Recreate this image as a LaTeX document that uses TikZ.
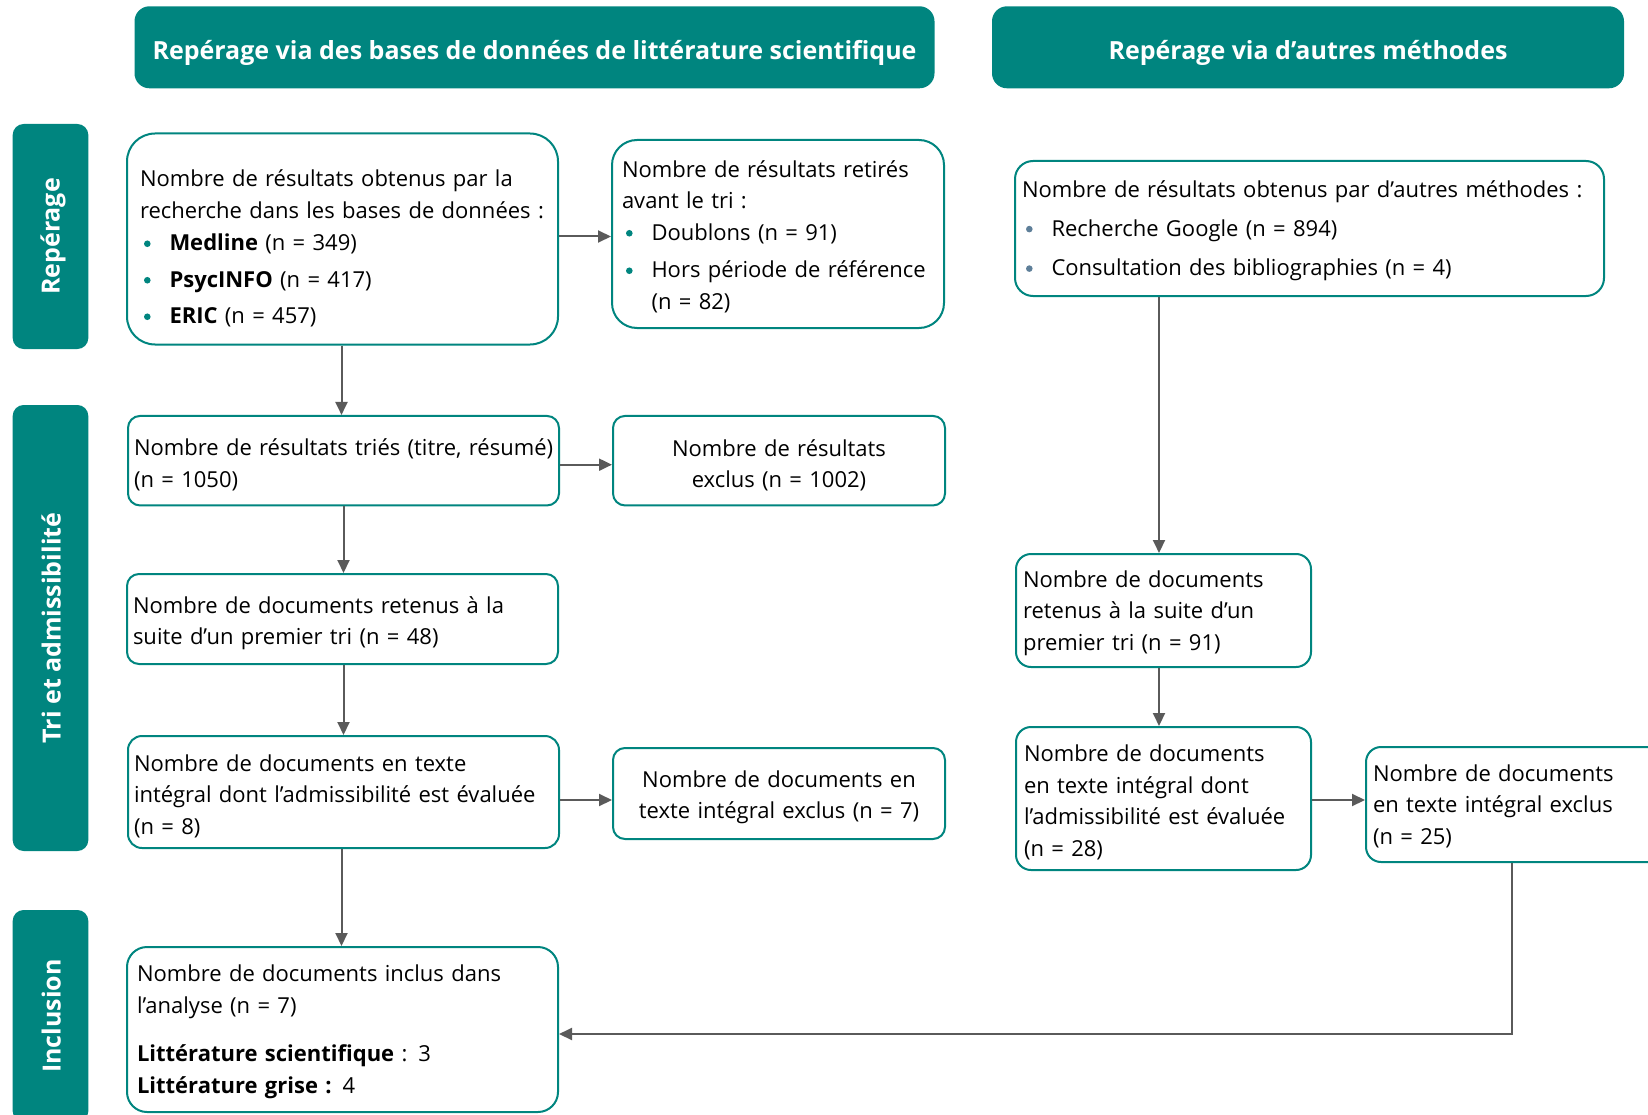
\documentclass[tikz,border=0pt]{standalone}
\usepackage{fontspec}
\setmainfont{Open Sans}
\usetikzlibrary{arrows.meta}
\definecolor{teal1}{HTML}{00857F}
\definecolor{bul2}{HTML}{5E7F99}
\definecolor{arrg}{HTML}{5A5A5A}
\newcommand\mybody{\fontsize{22}{31.5}\selectfont}
\newcommand\myhead{\fontsize{25}{30}\selectfont\bfseries}
\newcommand\bitem[2][teal1]{\hspace*{4pt}\makebox[25.5pt][l]{\tikz[baseline=0pt]{\fill[#1] (3.3pt,7pt) circle (3.3pt);}}#2}
\newcommand\hdtxt[2]{\raisebox{-#1}[0pt][0pt]{#2}}
\begin{document}
\begin{tikzpicture}[x=1pt,y=-1pt,
  box/.style={draw=teal1, line width=2pt, fill=white, rounded corners=#1, align=left, inner ysep=0pt, font=\mybody, text=black},
  box/.default=12pt,
  dn/.style={execute at begin node={\rule{0pt}{\dimexpr 17pt+#1\relax}}},
  head/.style={fill=teal1, rounded corners=15pt, text=white, font=\myhead, inner sep=0pt},
  side/.style={fill=teal1, rounded corners=11pt, text=white, font=\myhead, inner sep=0pt, rotate=90, minimum height=75.7pt},
  arr/.style={draw=arrg, line width=2pt, -{Triangle[length=13pt,width=12pt]}}
]
\useasboundingbox (0,0) rectangle (1648,1115);

% headers
\node[head, minimum width=800pt, minimum height=82pt] (H1) at (534.5,47.3) {\hdtxt{12pt}{Repérage via des bases de données de littérature scientifique}};
\node[head, minimum width=632pt, minimum height=82pt] (H2) at (1308,47.3) {\hdtxt{12pt}{Repérage via d’autres méthodes}};

% side labels
\node[side, minimum width=225pt] (S1) at (50.5,236.5) {\hdtxt{9pt}{Repérage}};
\node[side, minimum width=446pt] (S2) at (50.5,628) {\hdtxt{10pt}{Tri et admissibilité}};
\node[side, minimum width=212pt] (S3) at (50.5,1016) {\hdtxt{10pt}{Inclusion}};

% left column
\node[box=28pt, dn=19pt, minimum width=431pt, minimum height=211pt, text width=405pt, inner xsep=13pt] (B1) at (342.5,239)
 {Nombre de résultats obtenus par la\\recherche dans les bases de données :\\[1pt]
  \bitem{\textbf{Medline} (n = 349)}\\[5pt]
  \bitem{\textbf{PsycINFO} (n = 417)}\\[5pt]
  \bitem{\textbf{ERIC} (n = 457)}};
\node[box=25pt, dn=5pt, minimum width=332pt, minimum height=188pt, text width=312pt, inner xsep=10pt] (B2) at (778,234)
 {Nombre de résultats retirés\\avant le tri :\\
  \bitem{Doublons (n = 91)}\\[6pt]
  \bitem{Hors période de référence}\\
  \hspace*{29.5pt}(n = 82)};
\node[box, dn=8.5pt, minimum width=431pt, minimum height=89.5pt, text width=419pt, inner xsep=6pt] (B3) at (343.5,460.7)
 {\mbox{Nombre de résultats triés (titre, résumé)}\\(n = 1050)};
\node[box, dn=9.5pt, minimum width=332pt, minimum height=89.5pt, text width=320pt, inner xsep=6pt, align=center] (B4) at (779,460.7)
 {Nombre de résultats\\exclus (n = 1002)};
\node[box, dn=8.5pt, minimum width=431pt, minimum height=90pt, text width=419pt, inner xsep=6pt] (B5) at (342.5,619)
 {Nombre de documents retenus à la\\suite d’un premier tri (n = 48)};
\node[box=14pt, dn=7.5pt, minimum width=431pt, minimum height=112pt, text width=419pt, inner xsep=6pt] (B6) at (343.5,792)
 {Nombre de documents en texte\\\mbox{intégral dont l’admissibilité est évaluée}\\(n = 8)};
\node[box, dn=7.5pt, minimum width=332pt, minimum height=91pt, text width=320pt, inner xsep=6pt, align=center] (B7) at (779,793.5)
 {Nombre de documents en\\texte intégral exclus (n = 7)};
\node[box=20pt, dn=4pt, minimum width=431pt, minimum height=165pt, text width=411pt, inner xsep=10pt] (B8) at (342.5,1029.5)
 {Nombre de documents inclus dans\\l’analyse (n = 7)\\[17pt]
  \textbf{Littérature scientifique} : 3\\
  \textbf{Littérature grise :} 4};

% right column
\node[box=18pt, dn=4pt, minimum width=589pt, minimum height=135pt, text width=575pt, inner xsep=7pt] (R1) at (1309.5,228.5)
 {\mbox{Nombre de résultats obtenus par d’autres méthodes :}\\[7.5pt]
  \bitem[bul2]{Recherche Google (n = 894)}\\[8pt]
  \bitem[bul2]{Consultation des bibliographies (n = 4)}};
\node[box=15pt, dn=5pt, minimum width=295pt, minimum height=113pt, text width=281pt, inner xsep=7pt] (R2) at (1163.5,610.5)
 {Nombre de documents\\retenus à la suite d’un\\premier tri (n = 91)};
\node[box=15pt, dn=7.5pt, minimum width=295pt, minimum height=143pt, text width=279pt, inner xsep=8pt] (R3) at (1163.5,798.5)
 {Nombre de documents\\en texte intégral dont\\\mbox{l’admissibilité est évaluée}\\(n = 28)};
\node[box=15pt, dn=3pt, minimum width=298pt, minimum height=115pt, text width=284pt, inner xsep=7pt] (R4) at (1515,804.5)
 {Nombre de documents\\en texte intégral exclus\\(n = 25)};

% connectors
\draw[arr] ([yshift=2.5pt]B1.east) -- ([yshift=2.5pt]B1.east -| B2.west);
\draw[arr] ([xshift=-1pt]B1.south) -- ([xshift=-1pt]B1.south |- B3.north);
\draw[arr] ([yshift=-4pt]B3.east) -- ([yshift=-4pt]B3.east -| B4.west);
\draw[arr] (B3.south) -- (B3.south |- B5.north);
\draw[arr] ([xshift=1pt]B5.south) -- ([xshift=1pt]B5.south |- B6.north);
\draw[arr] ([yshift=-8pt]B6.east) -- ([yshift=-8pt]B6.east -| B7.west);
\draw[arr] ([xshift=-2pt]B6.south) -- ([xshift=-2pt]B6.south |- B8.north);
\draw[arr] ([xshift=-4.5pt]R2.north |- R1.south) -- ([xshift=-4.5pt]R2.north);
\draw[arr] ([xshift=-4.5pt]R2.south) -- ([xshift=-4.5pt]R2.south |- R3.north);
\draw[arr] ([yshift=-1.5pt]R3.east) -- ([yshift=-1.5pt]R3.east -| R4.west);
\draw[arr] ([xshift=-3pt]R4.south) |- ([yshift=-4.5pt]B8.east);
\end{tikzpicture}
\end{document}
